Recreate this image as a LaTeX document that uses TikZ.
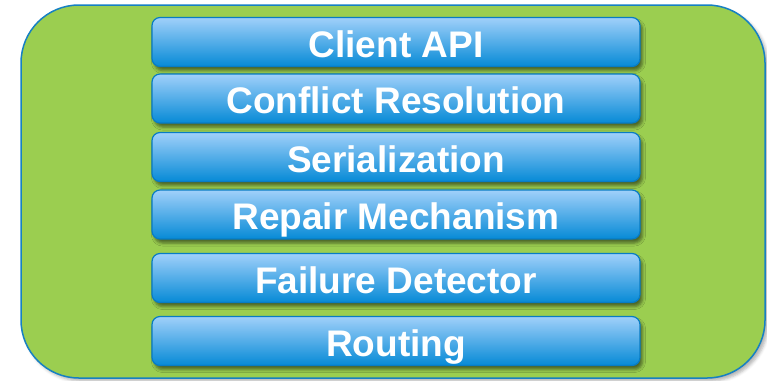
\documentclass[tikz,border=0pt]{standalone}
\usepackage{fontspec}
\setmainfont{Liberation Sans}
\usetikzlibrary{shadows.blur}
\definecolor{grn}{RGB}{155,206,80}
\definecolor{grnborder}{RGB}{22,128,195}
\definecolor{btop}{RGB}{160,208,250}
\definecolor{bbot}{RGB}{6,138,214}
\definecolor{bborder}{RGB}{8,124,196}
\tikzset{
  frame/.style={draw=grnborder, line width=1.5pt, fill=grn, rounded corners=58pt,
    minimum width=744pt, minimum height=373pt, inner sep=0pt,
    blur shadow={shadow xshift=3pt, shadow yshift=-3pt, shadow opacity=30, shadow blur radius=3pt}},
  layer/.style={draw=bborder, line width=1.2pt, top color=btop, bottom color=bbot,
    rounded corners=8pt, minimum width=488pt, minimum height=49pt, inner sep=0pt,
    text=white, font=\bfseries\fontsize{37}{37}\selectfont,
    text height=30pt, text depth=0pt,
    blur shadow={shadow xshift=2.5pt, shadow yshift=-4pt, shadow opacity=50, shadow blur radius=3pt}}
}
\begin{document}
\begin{tikzpicture}[x=1pt,y=-1pt]
\useasboundingbox (0,0) rectangle (767,380);
\node[frame] (outer) at (393,191.5) {};
\node[layer] (client) at (396,42) {Client API};
\node[layer] (conflict) at (396,98.5) {Conflict Resolution};
\node[layer] (serial) at (396,157) {Serialization};
\node[layer] (repair) at (396,214.5) {Repair Mechanism};
\node[layer] (failure) at (396,278) {Failure Detector};
\node[layer] (routing) at (396,341) {Routing};
\end{tikzpicture}
\end{document}
